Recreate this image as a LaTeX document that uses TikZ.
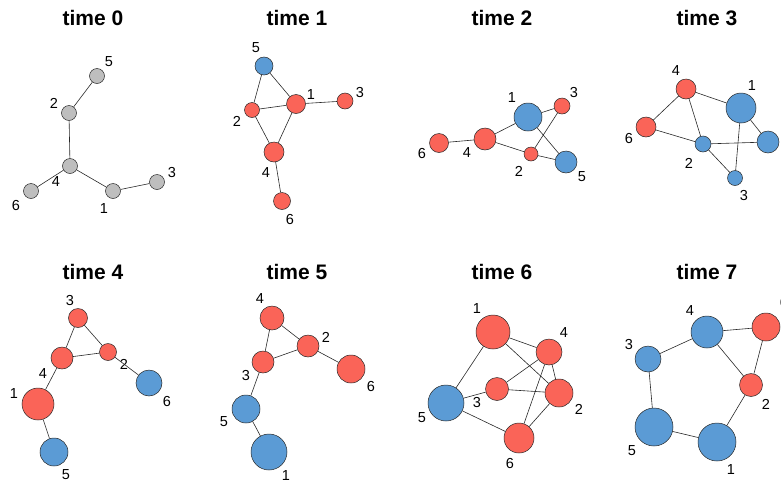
\documentclass[tikz,border=0pt]{standalone}
\usepackage{fontspec}
\setmainfont{Liberation Sans}
\usepackage{tikz}
\definecolor{nodered}{RGB}{250,100,88}
\definecolor{nodeblue}{RGB}{91,155,213}
\definecolor{nodegrey}{RGB}{190,190,190}
\definecolor{edgegrey}{RGB}{40,40,40}
\tikzset{
  vtx/.style={draw=edgegrey, circle, line width=0.5pt, inner sep=0pt},
  gn/.style={vtx, fill=nodegrey, minimum size=#1},
  rn/.style={vtx, fill=nodered, minimum size=#1},
  bn/.style={vtx, fill=nodeblue, minimum size=#1},
  num/.style={font=\fontsize{14.5}{15}\selectfont, inner sep=0pt},
  ttl/.style={font=\fontsize{21}{24}\selectfont\bfseries, inner sep=0pt},
  link/.style={edgegrey, line width=0.6pt}
}

\begin{document}
\begin{tikzpicture}[x=1pt, y=-1pt]
\useasboundingbox (0,0) rectangle (781,485);
\clip (0,0) rectangle (781,485);

% Titles
\node[ttl] (title0) at (93,18) {time 0};
\node[ttl] (title1) at (297,18) {time 1};
\node[ttl] (title2) at (502,18) {time 2};
\node[ttl] (title3) at (707,18) {time 3};
\node[ttl] (title4) at (93,272) {time 4};
\node[ttl] (title5) at (297,272) {time 5};
\node[ttl] (title6) at (502,272) {time 6};
\node[ttl] (title7) at (707,272) {time 7};

% time 0
\node[gn=15] (t0n5) at (97,76) {};   \node[num] (t0l5) at (109,62) {5};
\node[gn=15] (t0n2) at (69,113) {};  \node[num] (t0l2) at (54,103) {2};
\node[gn=15] (t0n4) at (70,166) {};  \node[num] (t0l4) at (56,182) {4};
\node[gn=15] (t0n6) at (31,191) {};  \node[num] (t0l6) at (16,206) {6};
\node[gn=15] (t0n1) at (113,191) {}; \node[num] (t0l1) at (104,209) {1};
\node[gn=15] (t0n3) at (157,182) {}; \node[num] (t0l3) at (172,173) {3};
\draw[link] (t0n5) -- (t0n2);
\draw[link] (t0n2) -- (t0n4);
\draw[link] (t0n4) -- (t0n6);
\draw[link] (t0n4) -- (t0n1);
\draw[link] (t0n1) -- (t0n3);

% time 1
\node[bn=18] (t1n5) at (264,66) {};  \node[num] (t1l5) at (256,48) {5};
\node[rn=15] (t1n2) at (252,110) {}; \node[num] (t1l2) at (237,121) {2};
\node[rn=19] (t1n1) at (296,104) {}; \node[num] (t1l1) at (311,95) {1};
\node[rn=16] (t1n3) at (345,101) {}; \node[num] (t1l3) at (360,93) {3};
\node[rn=20] (t1n4) at (274,152) {}; \node[num] (t1l4) at (266,173) {4};
\node[rn=17] (t1n6) at (282,201) {}; \node[num] (t1l6) at (290,220) {6};
\draw[link] (t1n5) -- (t1n2);
\draw[link] (t1n5) -- (t1n1);
\draw[link] (t1n2) -- (t1n1);
\draw[link] (t1n1) -- (t1n3);
\draw[link] (t1n2) -- (t1n4);
\draw[link] (t1n1) -- (t1n4);
\draw[link] (t1n4) -- (t1n6);

% time 2
\node[bn=28] (t2n1) at (528,117) {}; \node[num] (t2l1) at (512,98) {1};
\node[rn=16] (t2n3) at (562,106) {}; \node[num] (t2l3) at (574,93) {3};
\node[rn=22] (t2n4) at (485,139) {}; \node[num] (t2l4) at (467,153) {4};
\node[rn=19] (t2n6) at (439,143) {}; \node[num] (t2l6) at (422,154) {6};
\node[rn=14] (t2n2) at (531,154) {}; \node[num] (t2l2) at (519,171) {2};
\node[bn=22] (t2n5) at (566,162) {}; \node[num] (t2l5) at (582,177) {5};
\draw[link] (t2n6) -- (t2n4);
\draw[link] (t2n4) -- (t2n1);
\draw[link] (t2n4) -- (t2n2);
\draw[link] (t2n1) -- (t2n3);
\draw[link] (t2n1) -- (t2n5);
\draw[link] (t2n3) -- (t2n2);
\draw[link] (t2n2) -- (t2n5);

% time 3
\node[rn=20] (t3n4) at (686,89) {};  \node[num] (t3l4) at (676,71) {4};
\node[bn=30] (t3n1) at (741,108) {}; \node[num] (t3l1) at (752,86) {1};
\node[rn=20] (t3n6) at (646,127) {}; \node[num] (t3l6) at (629,139) {6};
\node[bn=16] (t3n2) at (703,144) {}; \node[num] (t3l2) at (689,163) {2};
\node[bn=22] (t3n5) at (768,142) {};
\node[bn=15] (t3n3) at (735,178) {}; \node[num] (t3l3) at (744,196) {3};
\draw[link] (t3n4) -- (t3n6);
\draw[link] (t3n4) -- (t3n1);
\draw[link] (t3n4) -- (t3n2);
\draw[link] (t3n6) -- (t3n2);
\draw[link] (t3n2) -- (t3n5);
\draw[link] (t3n2) -- (t3n3);
\draw[link] (t3n1) -- (t3n5);
\draw[link] (t3n1) -- (t3n3);

% time 4
\node[rn=19] (t4n3) at (78,318) {};  \node[num] (t4l3) at (70,301) {3};
\node[rn=17] (t4n2) at (108,352) {}; \node[num] (t4l2) at (124,364) {2};
\node[rn=22] (t4n4) at (62,358) {};  \node[num] (t4l4) at (43,374) {4};
\node[bn=26] (t4n6) at (149,383) {}; \node[num] (t4l6) at (167,402) {6};
\node[rn=32] (t4n1) at (38,404) {};  \node[num] (t4l1) at (14,394) {1};
\node[bn=28] (t4n5) at (54,452) {};  \node[num] (t4l5) at (66,475) {5};
\draw[link] (t4n3) -- (t4n4);
\draw[link] (t4n3) -- (t4n2);
\draw[link] (t4n4) -- (t4n2);
\draw[link] (t4n2) -- (t4n6);
\draw[link] (t4n4) -- (t4n1);
\draw[link] (t4n1) -- (t4n5);

% time 5
\node[rn=24] (t5n4) at (272,318) {}; \node[num] (t5l4) at (260,299) {4};
\node[rn=22] (t5n2) at (308,346) {}; \node[num] (t5l2) at (326,337) {2};
\node[rn=22] (t5n3) at (263,362) {}; \node[num] (t5l3) at (246,376) {3};
\node[rn=28] (t5n6) at (351,369) {}; \node[num] (t5l6) at (371,387) {6};
\node[bn=28] (t5n5) at (246,409) {}; \node[num] (t5l5) at (224,422) {5};
\node[bn=36] (t5n1) at (269,452) {}; \node[num] (t5l1) at (286,476) {1};
\draw[link] (t5n4) -- (t5n3);
\draw[link] (t5n4) -- (t5n2);
\draw[link] (t5n3) -- (t5n2);
\draw[link] (t5n2) -- (t5n6);
\draw[link] (t5n3) -- (t5n5);
\draw[link] (t5n5) -- (t5n1);

% time 6
\node[rn=34] (t6n1) at (493,332) {}; \node[num] (t6l1) at (477,309) {1};
\node[rn=26] (t6n4) at (549,352) {}; \node[num] (t6l4) at (564,333) {4};
\node[rn=23] (t6n3) at (497,389) {}; \node[num] (t6l3) at (477,403) {3};
\node[rn=28] (t6n2) at (559,393) {}; \node[num] (t6l2) at (579,409) {2};
\node[bn=36] (t6n5) at (446,403) {}; \node[num] (t6l5) at (422,418) {5};
\node[rn=30] (t6n6) at (519,438) {}; \node[num] (t6l6) at (510,463) {6};
\draw[link] (t6n1) -- (t6n5);
\draw[link] (t6n1) -- (t6n4);
\draw[link] (t6n1) -- (t6n2);
\draw[link] (t6n4) -- (t6n3);
\draw[link] (t6n4) -- (t6n2);
\draw[link] (t6n4) -- (t6n6);
\draw[link] (t6n3) -- (t6n5);
\draw[link] (t6n3) -- (t6n2);
\draw[link] (t6n2) -- (t6n6);
\draw[link] (t6n5) -- (t6n6);

% time 7
\node[bn=32] (t7n4) at (707,332) {}; \node[num] (t7l4) at (690,311) {4};
\node[rn=28] (t7n6) at (766,327) {}; \node[num] (t7l6) at (784,303) {6};
\node[bn=26] (t7n3) at (648,359) {}; \node[num] (t7l3) at (629,345) {3};
\node[rn=23] (t7n2) at (751,385) {}; \node[num] (t7l2) at (766,404) {2};
\node[bn=38] (t7n5) at (654,427) {}; \node[num] (t7l5) at (632,451) {5};
\node[bn=38] (t7n1) at (717,442) {}; \node[num] (t7l1) at (731,470) {1};
\draw[link] (t7n3) -- (t7n4);
\draw[link] (t7n4) -- (t7n6);
\draw[link] (t7n4) -- (t7n2);
\draw[link] (t7n6) -- (t7n2);
\draw[link] (t7n2) -- (t7n1);
\draw[link] (t7n1) -- (t7n5);
\draw[link] (t7n5) -- (t7n3);
\end{tikzpicture}
\end{document}
